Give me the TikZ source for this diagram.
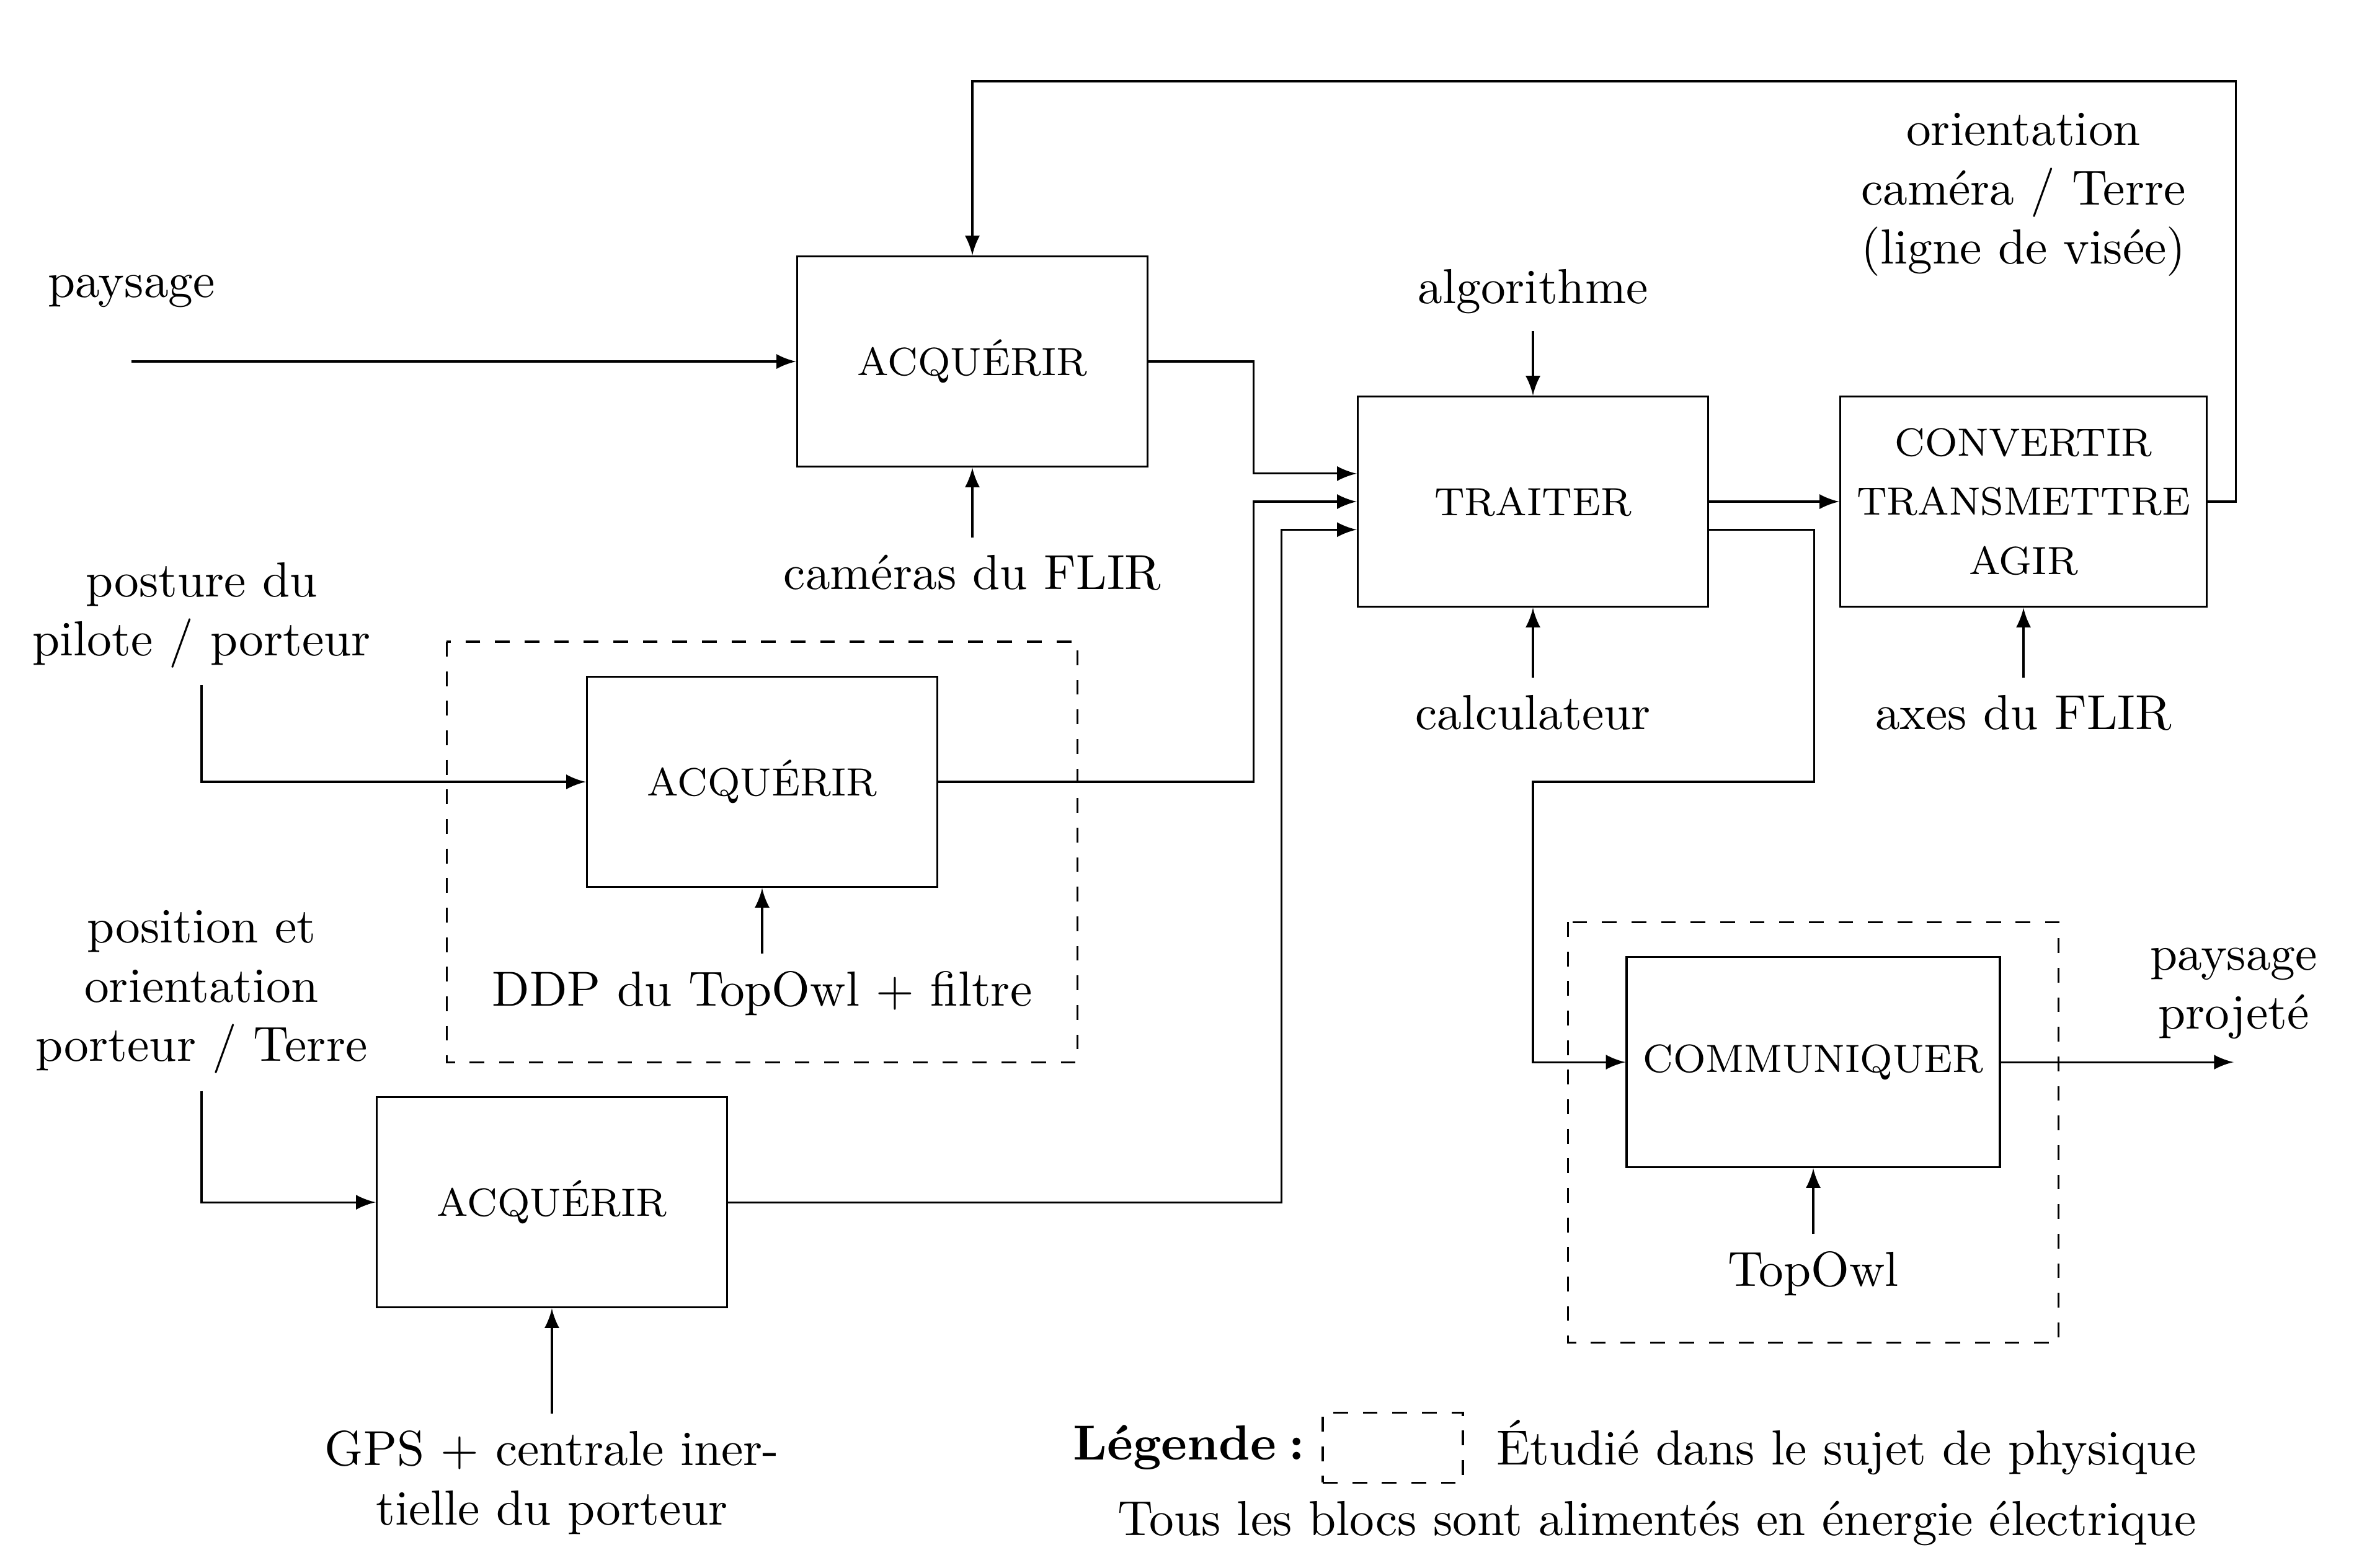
\documentclass[tikz,border=0pt]{standalone}
\usepackage{fontspec}
\usepackage{tikz}
\usetikzlibrary{arrows, positioning}

\begin{document}
\begin{tikzpicture}[> = latex, % arrow head style
                node distance = 5mm, % distance between label and block
                thin % line style
            ]

            \tikzstyle{bloc}=[draw = black, rectangle, minimum width = 2.5cm,
            minimum height = 1.5cm, align = center, font = \footnotesize]
            \tikzstyle{etude}=[draw = black, dashed]
            \tikzstyle{texte}=[align = center]

            \useasboundingbox (-10.938,-7.606) rectangle (5.858,3.580);

            % blocs
            \node[bloc] (traiter) at (0,0) {TRAITER}; \node[bloc] (acq1) at
            (-4,1) {ACQUÉRIR}; \node[bloc] (acq2) at (-5.5,-2) {ACQUÉRIR};
            \node[bloc] (acq3) at (-7,-5) {ACQUÉRIR}; \node[bloc] (conv) at
            (3.5,0) {CONVERTIR\\[2.5pt]TRANSMETTRE\\[2.5pt]AGIR};
            \node[bloc] (comm) at (2,-4) {COMMUNIQUER};

            % entrees et sorties
            \coordinate (paysin) at (-10,1); \node[above=2.6mm of paysin]
            (paysage) {paysage}; \coordinate (paysout) at (5,-4);
            \node[texte] (projete) at (5,-3.51) {paysage\\projeté};
            \node[texte] (posture) at (-9.5,-0.81) {posture du\\pilote /
            porteur}; \node[texte] (position) at (-9.5,-3.5) {position
            et\\orientation\\porteur / Terre}; \node[texte] (visee) at
            (3.5,2.19) {orientation\\caméra / Terre\\(ligne de visée)};

            % donnees de controle
            \node[below=of acq1] (cam) {caméras du FLIR}; \node[above=4.6mm
            of traiter] (algo) {algorithme}; \node[below=of traiter] (calc)
            {calculateur}; \node[below=of conv] (axes) {axes du FLIR};
            \node[below=4.7mm of acq2] (ddp) {DDP du TopOwl + filtre};
            \node[below=4.7mm of comm] (topowl) {TopOwl}; \node[texte,
            below=7.5mm of acq3] (gps) {GPS + centrale iner-\\tielle du
            porteur};

            % zones etudiees
            \draw[etude] ([shift={(-2.25,1)}]acq2.center) rectangle
            ([shift={(2.25,-2)}]acq2.center); \draw[etude]
            ([shift={(-1.75,1)}]comm.center) rectangle
            ([shift={(1.75,-2)}]comm.center);

            \path[->] (paysin) edge (acq1); \path[->] (cam) edge (acq1);
            \path[->] (algo) edge (traiter); \path[->] (calc) edge
            (traiter); \path[->] (axes) edge (conv); \path[->] (ddp) edge
            (acq2); \path[->] (topowl) edge (comm); \path[->] (gps) edge
            (acq3); \path[->] (traiter) edge (conv); \path[->] (comm) edge
            (paysout);

            \draw[->] (posture) |- (acq2); \draw[->] (position) |- (acq3);
            \draw[->] (acq1.east) -- ++(0.75,0) |- ([yshift=2mm]traiter.west);
            \draw[->] (acq2.east) -- ++(2.25,0) |- (traiter.west); \draw[->]
            (acq3.east) -- ++(3.95,0) |- ([yshift=-2mm]traiter.west);
            \draw[->] (conv.east) -- ++(0.2,0) |- ([yshift=2cm]acq1.center)
            -- (acq1); \draw[->] ([yshift=-2mm]traiter.east) -- ++(0.75,0)
            |- (0,-2) |- (comm);

            % legende
            \node[etude, minimum width = 1cm, minimum height = 5mm] (legbox)
            at (-1,-6.75) {}; \node[left=0pt of legbox] (legtitre)
            {\textbf{Légende\hspace{2.5pt}:}}; \node[right=1.1mm of legbox]
            (legetude) {Étudié dans le sujet de physique};
            \node[anchor=east] (legalim) at ([yshift=-5.4mm]legetude.east)
            {Tous les blocs sont alimentés en énergie électrique};
            \end{tikzpicture}
\end{document}
